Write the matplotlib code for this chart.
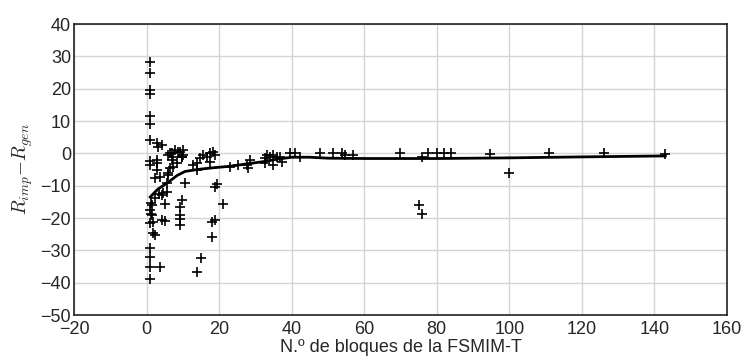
import matplotlib
matplotlib.use("Agg")
import matplotlib.pyplot as plt

# Scatter data: number of blocks vs R_imp - R_gen
x_pts = [1, 1, 1, 1, 1, 1, 1,
         1, 1, 1.5, 1, 1.5, 1.8, 1, 1.8, 2.3, 1, 1, 1, 3.7, 1,
         1.2, 1.2, 2.3, 2.3, 2.9, 3, 3, 3.2, 4.2, 4.5, 5, 5, 4.2,
         5.6, 5.6, 5.8, 6.4, 5.8, 6.4, 7, 7, 7.3, 7.8, 8.7, 9.7, 10, 10,
         9.2, 9.8, 9.2, 9.2, 9.2, 10.6, 3.4, 4.2, 2.9, 3.7, 8.4, 7.3, 5.9,
         9.2, 9.8, 14, 15, 18, 18, 19, 19.4, 19, 21,
         13.9, 14.7, 15.6, 16.6, 17.5, 18.3, 18.9, 17.5, 13.9, 12.8,
         23, 25.2, 27.7, 28.6, 28, 32.6, 33.2, 34, 34.9, 35.9, 34.9, 32.6,
         36.8, 37.3, 39.5, 41, 42.3, 47.8, 51.4, 54, 54.7, 57,
         70, 75, 76, 76, 77.6, 80, 82, 84, 94.6, 100, 111, 126, 143]
y_pts = [28.3, 24.8, 19.6, 18.4, 11.5, 9.0, 4.1,
         -2.5, -3.6, -16, -17.5, -19, -21.3, -21.6, -24.7, -25.3, -29.3, -32, -35.2, -35.2, -39,
         -15.4, -18.8, -13.9, -7.7, -5.2, -3, 3.2, 2, 2.5, -12.3, -15.7, -21, -12.9,
         -11.9, -9.3, -6.7, -4.6, -0.5, 0, -2, 0, -1.1, 1, 0.4, -1.1, 1, -0.5,
         -16.6, -14.5, -19, -20.4, -22.2, -9.3, -12.6, -20.6, -2.1, -7.3, -3, -4.2, -6.1,
         0.4, -1.1, -36.7, -32.5, -26, -21.3, -20.7, -9.5, -10.4, -15.7,
         -3, -1.5, -0.5, -1.1, 0, 0.4, -0.5, -2.7, -5.2, -3.6,
         -4.2, -3.6, -3.6, -2.1, -4.6, -1.5, -0.5, -1.1, -0.5, -1.1, -3.6, -3,
         -1.1, -2.7, 0, 0, -1, 0, 0, 0, -0.5, -0.6,
         0, -16, -18.8, -1, 0, 0, 0, 0, -0.2, -6.1, 0, 0, -0.2]

# Smoothed trend line
x_fit = [1, 3, 6, 8.5, 10.6, 14, 18, 23, 28, 32, 36, 40, 45, 50, 60, 80, 100, 120, 143]
y_fit = [-13.5, -11.2, -8.9, -6.8, -5.6, -5.0, -4.5, -4.0, -3.2, -2.6, -1.8, -1.2,
         -1.2, -1.5, -1.6, -1.6, -1.4, -1.1, -0.8]

plt.rcParams['font.family'] = ['Liberation Sans', 'DejaVu Sans']
plt.rcParams['mathtext.fontset'] = 'cm'

fig = plt.figure(figsize=(7.46, 3.62), dpi=100)
ax = fig.add_axes([0.0992, 0.1298, 0.8753, 0.8039])

ax.plot(x_pts, y_pts, linestyle='none', marker='+', color='black',
        markersize=7.5, markeredgewidth=1.2, zorder=3)
ax.plot(x_fit, y_fit, color='black', linewidth=2, zorder=4)

ax.set_xlim(-20, 160)
ax.set_ylim(-50, 40)
ax.set_xticks(range(-20, 161, 20))
ax.set_yticks(range(-50, 41, 10))
ax.grid(True, color='#d4d4d4', linewidth=1)
ax.set_axisbelow(True)
for s in ax.spines.values():
    s.set_color('#222222')
    s.set_linewidth(1.2)
ax.tick_params(length=0, labelsize=13, colors='#262626')
ax.tick_params(axis='x', pad=4)
ax.tick_params(axis='y', pad=2)
ax.set_xlabel('N.º de bloques de la FSMIM-T', fontsize=13, color='#262626', labelpad=1)
ax.set_ylabel('$R_{imp}$$-R_{gen}$', fontsize=14, color='#262626', labelpad=4)

fig.savefig('out.png', dpi=100)
